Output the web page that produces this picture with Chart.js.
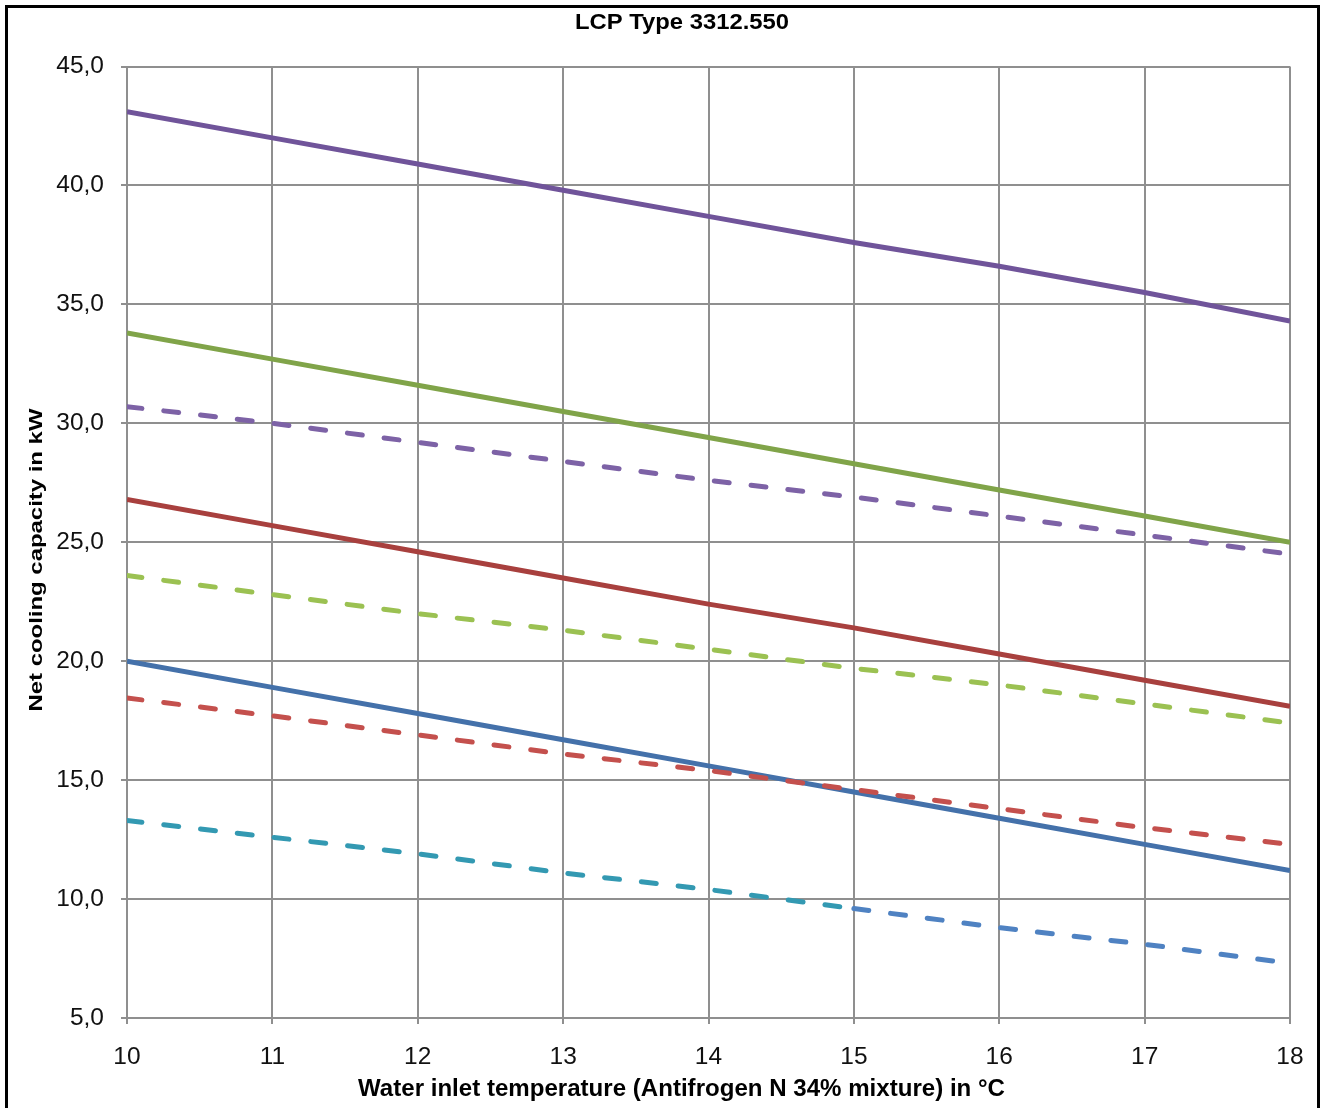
<!DOCTYPE html>
<html>
<head>
<meta charset="utf-8">
<script src="https://cdn.jsdelivr.net/npm/chart.js@4.4.0/dist/chart.umd.min.js"></script>
<style>
html,body{margin:0;padding:0;background:#fff;overflow:hidden;width:1326px;height:1108px;}
#c{position:absolute;left:0;top:0;}
#frame{position:absolute;left:5px;top:5px;width:1309px;height:1110px;border:3px solid #000;pointer-events:none;}
</style>
</head>
<body>
<canvas id="c" width="1326" height="1108"></canvas>
<div id="frame"></div>
<script>
// ---- data ----
const chartTitle = 'LCP Type 3312.550';
const xAxisTitle = 'Water inlet temperature (Antifrogen N 34% mixture) in °C';
const yAxisTitle = 'Net cooling capacity in kW';

const temperatures = [10, 11, 12, 13, 14, 15, 16, 17, 18];
const xTickLabels = ['10', '11', '12', '13', '14', '15', '16', '17', '18'];
const yTickValues = [5, 10, 15, 20, 25, 30, 35, 40, 45];
const yTickLabels = ['5,0', '10,0', '15,0', '20,0', '25,0', '30,0', '35,0', '40,0', '45,0'];

const purpleSolid  = [43.1, 42.0, 40.9, 39.8, 38.7, 37.6, 36.6, 35.5, 34.3];
const greenSolid   = [33.8, 32.7, 31.6, 30.5, 29.4, 28.3, 27.2, 26.1, 25.0];
const purpleDashed = [30.7, 30.0, 29.2, 28.4, 27.6, 26.9, 26.1, 25.3, 24.5];
const redSolid     = [26.8, 25.7, 24.6, 23.5, 22.4, 21.4, 20.3, 19.2, 18.1];
const greenDashed  = [23.6, 22.8, 22.0, 21.3, 20.5, 19.7, 19.0, 18.2, 17.4];
const blueSolid    = [20.0, 18.9, 17.8, 16.7, 15.6, 14.5, 13.4, 12.3, 11.2];
const redDashed    = [18.45, 17.7, 16.9, 16.1, 15.4, 14.6, 13.8, 13.0, 12.3];
const tealDashed   = [13.3, 12.6, 11.9, 11.1, 10.4, 9.6, 8.8, 8.1, 7.3];

const toPoints = arr => temperatures.map((t, i) => ({x: t, y: arr[i]}));

const DASH = [15, 22];
const TEAL = '#3399B2';
const BLUE_D = '#4F82C2';

function lineDs(label, arr, color, dashed, extra) {
  return Object.assign({
    label: label,
    data: toPoints(arr),
    borderColor: color,
    borderWidth: 5,
    borderDash: dashed ? DASH : [],
    borderCapStyle: dashed ? 'round' : 'butt',
    pointRadius: 0,
    pointHoverRadius: 0,
    tension: 0,
    fill: false
  }, extra || {});
}

const datasets = [
  lineDs('purple dashed', purpleDashed, '#7D62A6', true),
  lineDs('green dashed', greenDashed, '#9BC152', true),
  lineDs('red dashed', redDashed, '#C4504D', true),
  lineDs('teal dashed', tealDashed, TEAL, true, {
    segment: { borderColor: c => (c.p0.parsed.x >= 15 ? BLUE_D : TEAL) }
  }),
  lineDs('purple', purpleSolid, '#70549A', false),
  lineDs('green', greenSolid, '#80A449', false),
  lineDs('red', redSolid, '#A8403E', false),
  lineDs('blue', blueSolid, '#4471AA', false)
];

const GRID = '#8F8F8F';
const tickFont = {family: '"Liberation Sans", Arial, sans-serif', size: 24.5};

const textPlugin = {
  id: 'texts',
  afterDraw(chart) {
    const ctx = chart.ctx;
    ctx.save();
    ctx.fillStyle = '#000';
    ctx.textAlign = 'center';
    ctx.textBaseline = 'alphabetic';

    // chart title
    ctx.font = 'bold 22px "Liberation Sans", Arial, sans-serif';
    let w = ctx.measureText(chartTitle).width;
    ctx.save();
    ctx.translate(682, 28.5);
    ctx.scale(214 / w, 1);
    ctx.fillText(chartTitle, 0, 0);
    ctx.restore();

    // x axis title
    ctx.font = 'bold 24px "Liberation Sans", Arial, sans-serif';
    w = ctx.measureText(xAxisTitle).width;
    ctx.save();
    ctx.translate(681.5, 1096);
    ctx.scale(647 / w, 1);
    ctx.fillText(xAxisTitle, 0, 0);
    ctx.restore();

    // y axis title (rotated)
    ctx.font = 'bold 18.5px "Liberation Sans", Arial, sans-serif';
    w = ctx.measureText(yAxisTitle).width;
    ctx.save();
    ctx.translate(41.5, 560);
    ctx.rotate(-Math.PI / 2);
    ctx.scale(303 / w, 1);
    ctx.fillText(yAxisTitle, 0, 0);
    ctx.restore();

    ctx.restore();
  }
};

new Chart(document.getElementById('c'), {
  type: 'line',
  data: { datasets: datasets },
  options: {
    responsive: false,
    animation: false,
    devicePixelRatio: 1,
    layout: { padding: { top: 66.5, right: 36, left: 0, bottom: 0 } },
    plugins: {
      legend: { display: false },
      title: { display: false },
      tooltip: { enabled: false }
    },
    scales: {
      x: {
        type: 'linear',
        min: temperatures[0],
        max: temperatures[temperatures.length - 1],
        afterFit: s => { s.height = 90; },
        afterBuildTicks: s => { s.ticks = temperatures.map(v => ({value: v})); },
        ticks: {
          stepSize: 1,
          color: '#111',
          font: tickFont,
          padding: 19,
          maxRotation: 0,
          callback: (v) => { const i = temperatures.indexOf(v); return i >= 0 ? xTickLabels[i] : ''; }
        },
        grid: { color: GRID, lineWidth: 2, tickLength: 6, tickColor: GRID, drawTicks: true },
        border: { color: GRID, width: 2 }
      },
      y: {
        type: 'linear',
        min: yTickValues[0],
        max: yTickValues[yTickValues.length - 1],
        afterFit: s => { s.width = 127; },
        afterBuildTicks: s => { s.ticks = yTickValues.map(v => ({value: v})); },
        ticks: {
          stepSize: 5,
          color: '#111',
          font: tickFont,
          padding: 17,
          callback: (v) => { const i = yTickValues.indexOf(v); return i >= 0 ? yTickLabels[i] : ''; }
        },
        grid: { color: GRID, lineWidth: 2, tickLength: 6, tickColor: GRID, drawTicks: true },
        border: { color: GRID, width: 2 }
      }
    }
  },
  plugins: [textPlugin]
});
</script>
</body>
</html>
